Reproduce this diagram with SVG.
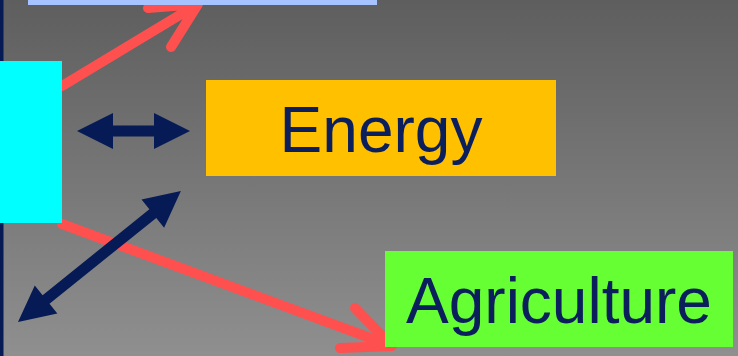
<svg xmlns="http://www.w3.org/2000/svg" width="738" height="356" viewBox="0 0 738 356">
<defs>
<linearGradient id="bg" x1="0" y1="0" x2="0" y2="1">
<stop offset="0" stop-color="#5e5e5e"/>
<stop offset="1" stop-color="#8f8f8f"/>
</linearGradient>
<style>
.red{fill:none;stroke:#ff5050;stroke-width:10;stroke-linecap:round;stroke-linejoin:round}
.navy{fill:#061a55}
.lbl{font-family:"Liberation Sans",Arial,sans-serif;font-size:64px;fill:#0a1f5c;text-anchor:middle}
</style>
</defs>
<rect width="738" height="356" fill="url(#bg)"/>
<rect x="0" y="0" width="3.5" height="356" fill="#061a55"/>
<g id="connectors">
<path class="red" d="M62,86 L198,4 M148,8 L198,4 L171,47"/>
<path class="red" d="M62,224 L392,346 M355,308 L392,346 L340,348"/>
<polygon class="navy" points="77,131 113,113 113,125.5 154,125.5 154,113 190,131 154,149 154,136.5 113,136.5 113,149"/>
<polygon class="navy" transform="translate(18,322) rotate(-38.8)" points="0,0 36,-18 36,-5.5 173,-5.5 173,-18 209,0 173,18 173,5.5 36,5.5 36,18"/>
</g>
<g id="top-node"><rect x="28" y="0" width="349" height="5" fill="#a6c2ff"/></g>
<g id="cyan-node"><rect x="0" y="61" width="62" height="162" fill="#00ffff"/></g>
<g id="energy"><rect x="206" y="80" width="350" height="96" fill="#ffc000"/><text class="lbl" x="381" y="152">Energy</text></g>
<g id="agriculture"><rect x="385" y="251" width="348" height="96" fill="#66ff33"/><text class="lbl" x="559" y="323">Agriculture</text></g>
</svg>
